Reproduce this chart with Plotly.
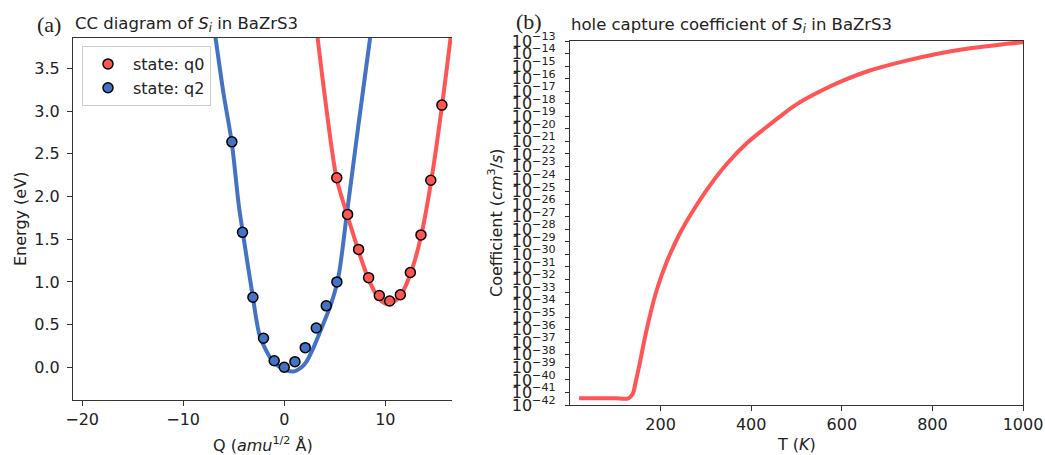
import numpy as np
import plotly.graph_objects as go

# ---------------- data ----------------
# Panel (a): configuration-coordinate diagram
q0_Q = [5.2, 6.27, 7.36, 8.35, 9.41, 10.43, 11.49, 12.48, 13.53, 14.5, 15.6]
q0_E = [2.22, 1.79, 1.38, 1.05, 0.84, 0.776, 0.85, 1.11, 1.55, 2.19, 3.07]
q2_Q = [-5.18, -4.13, -3.10, -2.05, -0.99, 0.0, 1.06, 2.08, 3.17, 4.16, 5.21]
q2_E = [2.64, 1.58, 0.82, 0.34, 0.077, 0.0, 0.066, 0.23, 0.46, 0.72, 1.0]

# fitted curves
q0_fit_Q = [3.0, 3.3, 4.2, 5.2, 6.3, 7.36, 8.35, 9.4, 10.16, 11.0, 11.5, 12.48, 13.53, 14.5, 15.6, 16.5, 17.0]
q0_fit_E = [4.15, 3.86, 3.0, 2.2, 1.76, 1.36, 1.03, 0.80, 0.74, 0.78, 0.84, 1.09, 1.53, 2.15, 3.05, 3.90, 4.40]
q2_fit_Q = [-7.3, -6.8, -6.0, -5.2, -4.5, -4.1, -3.1, -2.4, -1.2, -0.4, 0.9, 1.8, 2.2, 2.9, 3.7, 4.6, 5.35, 6.2, 7.3, 8.5, 9.0]
q2_fit_E = [4.25, 3.86, 3.2, 2.64, 1.9, 1.58, 0.82, 0.36, 0.08, 0.0, -0.05, 0.01, 0.066, 0.23, 0.46, 0.73, 1.05, 1.8, 2.8, 3.86, 4.3]

# Panel (b): hole capture coefficient vs temperature
T_K = [20, 60, 100, 129, 138, 146, 154, 169, 191, 213, 243, 272, 309, 346, 390, 434,
       464, 500, 550, 600, 662, 736, 809, 883, 957, 1000]
coef_log10 = [-41.47, -41.47, -41.47, -41.47, -41.15, -40.0, -38.68, -36.02, -32.9, -30.65,
              -28.3, -26.5, -24.5, -22.8, -21.15, -19.85, -19.0, -18.05, -17.05, -16.2,
              -15.35, -14.62, -14.03, -13.58, -13.25, -13.1]
coef = (10.0 ** np.array(coef_log10)).tolist()

a_xticks = [-20, -10, 0, 10]
a_yticks = [0.0, 0.5, 1.0, 1.5, 2.0, 2.5, 3.0, 3.5]
b_xticks = [200, 400, 600, 800, 1000]
b_exps = list(range(-42, -12))

# ---------------- styling ----------------
RED = "#ff5555"
BLUE = "#4472c4"
AX = "#333333"
TXT = "#222222"
W, H = 1045, 455

def px_x(p):
    return p / W

def px_y(p):
    return 1 - p / H

fig = go.Figure()

fig.add_trace(go.Scatter(x=q2_fit_Q, y=q2_fit_E, mode="lines",
                         line=dict(color=BLUE, width=4, shape="spline", smoothing=0.8),
                         showlegend=False, hoverinfo="skip", xaxis="x", yaxis="y"))
fig.add_trace(go.Scatter(x=q0_fit_Q, y=q0_fit_E, mode="lines",
                         line=dict(color=RED, width=4, shape="spline", smoothing=0.8),
                         showlegend=False, hoverinfo="skip", xaxis="x", yaxis="y"))
fig.add_trace(go.Scatter(x=q0_Q, y=q0_E, mode="markers", name="state: q0", legendgroup="q0",
                         marker=dict(color=RED, size=10, line=dict(color="black", width=1.5)),
                         xaxis="x", yaxis="y"))
fig.add_trace(go.Scatter(x=q2_Q, y=q2_E, mode="markers", name="state: q2", legendgroup="q2",
                         marker=dict(color=BLUE, size=10, line=dict(color="black", width=1.5)),
                         xaxis="x", yaxis="y"))

fig.add_trace(go.Scatter(x=T_K, y=coef, mode="lines",
                         line=dict(color=RED, width=4, shape="spline", smoothing=0.9),
                         showlegend=False, xaxis="x2", yaxis="y2"))

tickfont = dict(family="DejaVu Sans", size=16, color=TXT)
common = dict(showline=True, linecolor=AX, linewidth=1.2, ticks="outside", tickcolor=AX,
              showgrid=False, zeroline=False, tickfont=tickfont, automargin=False)

fig.update_layout(
    width=W, height=H,
    margin=dict(l=0, r=0, t=0, b=0, pad=0, autoexpand=False),
    paper_bgcolor="white", plot_bgcolor="white",
    font=dict(family="DejaVu Sans", size=16, color=TXT),
    xaxis=dict(domain=[px_x(73), px_x(452)], range=[-20.9, 16.6], tickvals=a_xticks,
               mirror=True, ticklen=5, anchor="y", **common),
    yaxis=dict(domain=[px_y(400), px_y(38)], range=[-0.383, 3.856], tickvals=a_yticks, tickformat=".1f",
               mirror=False, ticklen=5, ticklabelstandoff=4, anchor="x", **common),
    xaxis2=dict(domain=[px_x(570), px_x(1023)], range=[0, 1000], tickvals=b_xticks,
                mirror=True, ticklen=5, anchor="y2", **common),
    yaxis2=dict(domain=[px_y(405), px_y(41)], type="log", range=[-42, -13],
                tickvals=[10.0 ** k for k in b_exps],
                ticktext=["10<sup>\u2212%d</sup>" % (-k) for k in b_exps],
                mirror=True, ticklen=4, ticklabelstandoff=6, anchor="x2", **common),
    legend=dict(x=px_x(82), y=px_y(46), xanchor="left", yanchor="top",
                bgcolor="rgba(255,255,255,0.85)", bordercolor="#cccccc", borderwidth=1,
                font=dict(family="DejaVu Sans", size=16, color=TXT),
                itemwidth=40, tracegroupgap=0),
)

ann = [
    dict(text="(a)", x=px_x(35), y=px_y(24), xanchor="left", yanchor="middle",
         font=dict(family="Liberation Serif", size=22, color=TXT)),
    dict(text="CC diagram of <i>S</i><sub><i>i</i></sub> in BaZrS3", x=px_x(73), y=px_y(24),
         xanchor="left", yanchor="middle", font=dict(family="DejaVu Sans", size=16.5, color=TXT)),
    dict(text="(b)", x=px_x(514), y=px_y(21), xanchor="left", yanchor="middle",
         font=dict(family="Liberation Serif", size=22, color=TXT)),
    dict(text="hole capture coefficient of <i>S</i><sub><i>i</i></sub> in BaZrS3", x=px_x(569), y=px_y(25),
         xanchor="left", yanchor="middle", font=dict(family="DejaVu Sans", size=16.5, color=TXT)),
    dict(text="Energy (eV)", x=px_x(20), y=px_y(219), xanchor="center", yanchor="middle", textangle=-90,
         font=dict(family="DejaVu Sans", size=16, color=TXT)),
    dict(text="Q (<i>amu</i><sup>1/2</sup> Å)", x=px_x(262.5), y=px_y(444), xanchor="center", yanchor="middle",
         font=dict(family="DejaVu Sans", size=16, color=TXT)),
    dict(text="T (<i>K</i>)", x=px_x(796.5), y=px_y(444), xanchor="center", yanchor="middle",
         font=dict(family="DejaVu Sans", size=16, color=TXT)),
    dict(text="Coefficient (<i>cm</i><sup>3</sup>/<i>s</i>)", x=px_x(495), y=px_y(223), xanchor="center",
         yanchor="middle", textangle=-90, font=dict(family="DejaVu Sans", size=16, color=TXT)),
]
for a in ann:
    a.update(xref="paper", yref="paper", showarrow=False)
fig.update_layout(annotations=ann)

fig.write_html(
    "out.html",
    config={"displayModeBar": False},
    post_script="document.body.style.margin='0';document.body.style.overflow='hidden';",
)
